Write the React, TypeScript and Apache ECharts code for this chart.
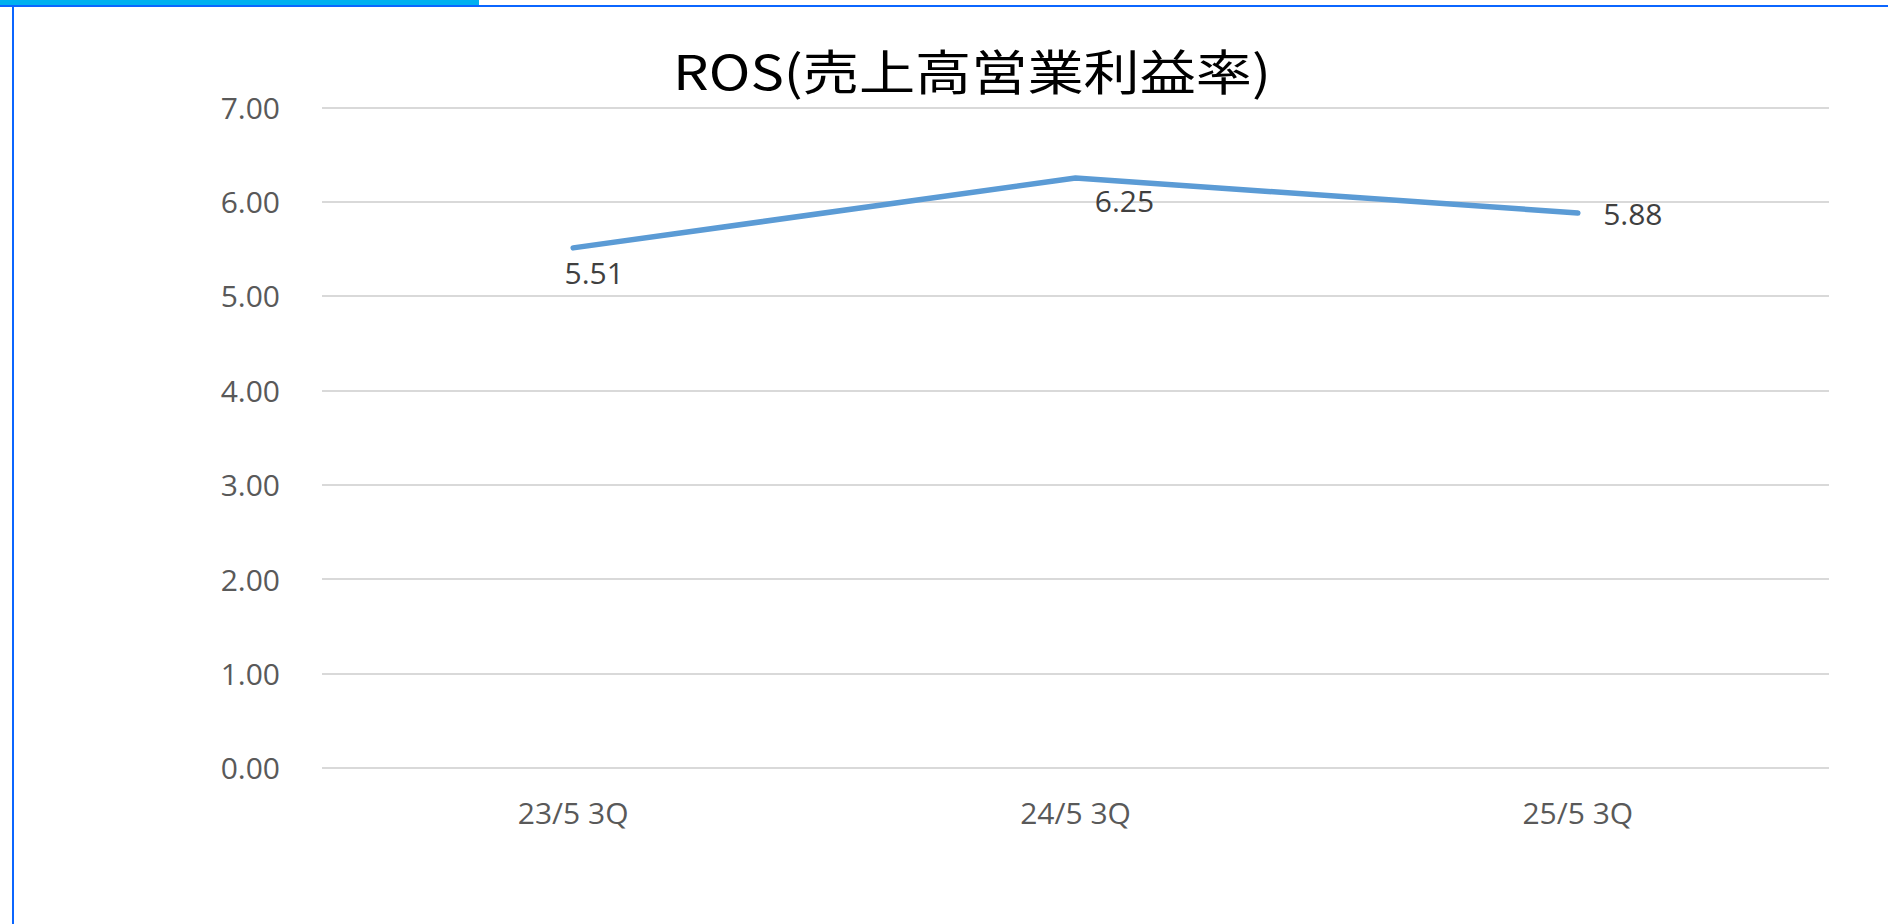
import React, { useEffect, useRef } from "react";
import * as echarts from "echarts";

const titleText = "ROS(売上高営業利益率)";
const categories = ["23/5 3Q", "24/5 3Q", "25/5 3Q"];
const rosValues = [5.51, 6.25, 5.88];
const labelOffsets: [number, number][] = [
  [21, 25],
  [49, 22],
  [55, 1],
];

export default function App() {
  const ref = useRef<HTMLDivElement>(null);
  useEffect(() => {
    if (!ref.current) return;
    const chart = echarts.init(ref.current, undefined, { renderer: "svg" });
    const fontFamily = "'Open Sans', 'Noto Sans', sans-serif";
    chart.setOption({
      animation: false,
      backgroundColor: "#ffffff",
      graphic: [
        { type: "rect", shape: { x: 0, y: 5, width: 1888, height: 2 }, style: { fill: "#0B66FF" }, z: 10 },
        { type: "rect", shape: { x: 12, y: 5, width: 2, height: 919 }, style: { fill: "#0B66FF" }, z: 10 },
        { type: "rect", shape: { x: 0, y: 0, width: 479, height: 5 }, style: { fill: "#00B0F0" }, z: 11 },
        {
          type: "text",
          x: 972,
          y: 69,
          scaleX: 1.17,
          style: {
            text: titleText,
            fill: "#000000",
            fontSize: 48,
            fontWeight: "normal",
            fontFamily: "'Noto Sans CJK JP', sans-serif",
            textAlign: "center",
            textVerticalAlign: "middle",
          },
          z: 10,
        },
      ],
      grid: { left: 322, right: 59, top: 107.3, bottom: 156.3, containLabel: false },
      xAxis: {
        type: "category",
        data: categories,
        boundaryGap: true,
        axisLine: { show: false },
        axisTick: { show: false },
        axisLabel: { color: "#595959", fontSize: 30, fontFamily, margin: 30 },
      },
      yAxis: {
        type: "value",
        min: 0,
        max: 7,
        interval: 1,
        axisLine: { show: false },
        axisTick: { show: false },
        axisLabel: {
          color: "#595959",
          fontSize: 30,
          fontFamily,
          margin: 42,
          formatter: (v: number) => v.toFixed(2),
        },
        splitLine: { lineStyle: { color: "#D9D9D9", width: 2 } },
      },
      series: [
        {
          type: "line",
          data: rosValues.map((v, i) => ({
            value: v,
            label: { offset: labelOffsets[i] },
          })),
          symbol: "circle",
          symbolSize: 2,
          itemStyle: { color: "#5B9BD5" },
          lineStyle: { color: "#5B9BD5", width: 5.5, cap: "round", join: "round" },
          label: {
            show: true,
            position: "inside",
            align: "center",
            verticalAlign: "middle",
            color: "#404040",
            fontSize: 30,
            fontFamily,
            formatter: (p: any) => Number(p.value).toFixed(2),
          },
        },
      ],
    });
    return () => chart.dispose();
  }, []);
  return (
    <div
      ref={ref}
      style={{ position: "fixed", left: 0, top: 0, width: 1888, height: 924, background: "#fff" }}
    />
  );
}
